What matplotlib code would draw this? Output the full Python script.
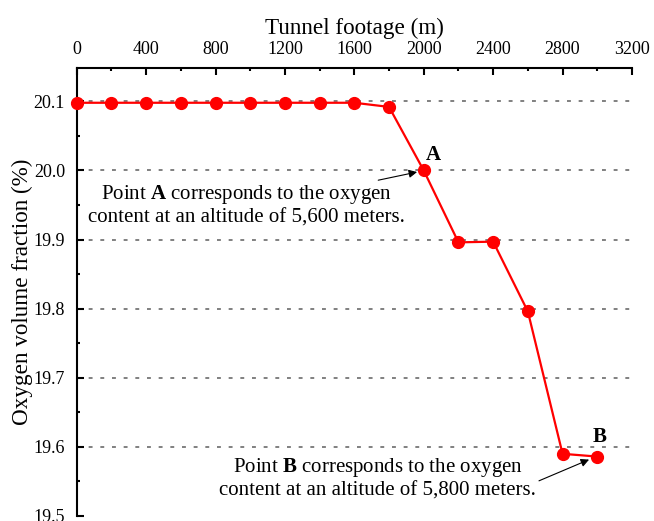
import matplotlib
matplotlib.use("Agg")
import matplotlib.pyplot as plt
from matplotlib.ticker import MultipleLocator

plt.rcParams['font.family'] = ['Liberation Serif', 'DejaVu Serif']
plt.rcParams['mathtext.fontset'] = 'custom'
plt.rcParams['mathtext.rm'] = 'Liberation Serif'
plt.rcParams['mathtext.bf'] = 'Liberation Serif:bold'

footage = [0, 200, 400, 600, 800, 1000, 1200, 1400, 1600, 1800, 2000, 2200, 2400, 2600, 2800, 3000]
oxygen = [20.098, 20.098, 20.098, 20.098, 20.098, 20.098, 20.098, 20.098, 20.098, 20.092,
          20.0, 19.896, 19.897, 19.796, 19.590, 19.586]
x_ticks = [0, 400, 800, 1200, 1600, 2000, 2400, 2800, 3200]
y_ticks = [19.5, 19.6, 19.7, 19.8, 19.9, 20.0, 20.1]

fig = plt.figure(figsize=(6.54, 5.21), dpi=100)
ax = fig.add_axes([0.1173, 0.0096, 0.849, 0.8608])

for yv in y_ticks[1:]:
    ax.axhline(yv, color='#808080', linestyle=(0, (2, 4)), linewidth=1.4, zorder=1)

ax.plot(footage, oxygen, color='red', linewidth=1.6, marker='o', markersize=8.5,
        markerfacecolor='red', markeredgecolor='red', zorder=3, clip_on=False)

ax.set_xlim(0, 3200)
ax.set_ylim(19.5, 20.149)
ax.xaxis.tick_top()
ax.xaxis.set_label_position('top')
ax.set_xticks(x_ticks)
ax.set_yticks(y_ticks)
ax.set_yticklabels([f"{v:.1f}" for v in y_ticks])
ax.xaxis.set_minor_locator(MultipleLocator(200))
ax.yaxis.set_minor_locator(MultipleLocator(0.05))
ax.tick_params(axis='both', which='major', direction='in', length=5, width=1.5, labelsize=13)
ax.tick_params(axis='both', which='minor', direction='in', length=2.5, width=1.5)
ax.tick_params(axis='x', which='major', pad=6.5)
ax.tick_params(axis='y', which='major', pad=8.5)

for s in ['right', 'bottom']:
    ax.spines[s].set_visible(False)
for s in ['left', 'top']:
    ax.spines[s].set_linewidth(1.5)

ax.set_xlabel('Tunnel footage (m)', fontsize=16.7, labelpad=5.5)
ax.set_ylabel('Oxygen volume fraction (%)', fontsize=16.7)
ax.yaxis.set_label_coords(-0.098, 0.5)
ax.yaxis.label.set_va('center')

ax.text(2012, 20.022, 'A', fontsize=15, fontweight='bold', ha='left', va='center')
ax.text(2973, 19.614, 'B', fontsize=15, fontweight='bold', ha='left', va='center')

ax.annotate('Point $\\mathbf{A}$ corresponds to the oxygen\ncontent at an altitude of 5,600 meters.',
            xy=(1985, 19.999), xytext=(980, 19.95), fontsize=15, ha='center', va='center',
            linespacing=1.15,
            arrowprops=dict(arrowstyle='-|>', color='black', lw=0.8,
                            shrinkA=0, shrinkB=3, mutation_scale=12,
                            relpos=(0.86, 0.98)))
ax.annotate('Point $\\mathbf{B}$ corresponds to the oxygen\ncontent at an altitude of 5,800 meters.',
            xy=(2975, 19.584), xytext=(1735, 19.5543), fontsize=15, ha='center', va='center',
            linespacing=1.15,
            arrowprops=dict(arrowstyle='-|>', color='black', lw=0.8,
                            shrinkA=0, shrinkB=3, mutation_scale=12,
                            relpos=(1.0, 0.42)))

fig.savefig('out.png', dpi=100)
